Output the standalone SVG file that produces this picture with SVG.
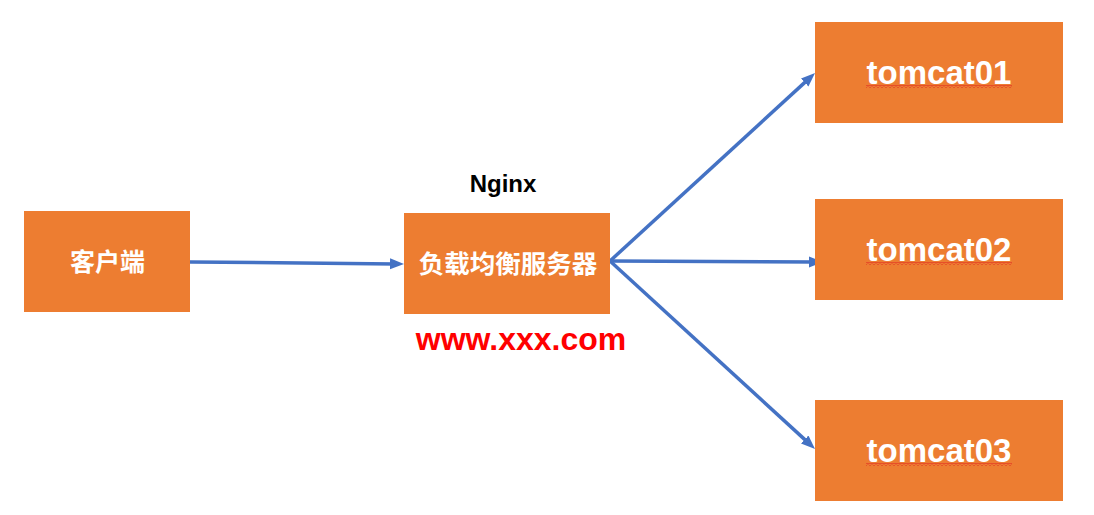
<svg xmlns="http://www.w3.org/2000/svg" width="1094" height="515" viewBox="0 0 1094 515">
  <style>
    .box { fill: #ED7D31; }
    .cn { font-family: "Noto Sans CJK SC", "Liberation Sans", sans-serif; font-weight: bold; fill: #FFFFFF; text-anchor: middle; }
    .tc { font-family: "Liberation Sans", Arial, sans-serif; font-weight: bold; font-size: 33px; fill: #FFFFFF; text-anchor: middle; }
    .conn { stroke: #4472C4; stroke-width: 3.5; fill: none; marker-end: url(#arrow); }
  </style>
  <defs>
    <marker id="arrow" markerUnits="userSpaceOnUse" markerWidth="15" markerHeight="12" refX="5" refY="5.5" orient="auto">
      <path d="M0,0 L14,5.5 L0,11 z" fill="#4472C4"/>
    </marker>
    <pattern id="wave" patternUnits="userSpaceOnUse" width="4" height="3">
      <path d="M0,2.5 L2,0.5 L4,2.5" stroke="#E02020" stroke-width="1" fill="none"/>
    </pattern>
  </defs>
  <rect width="1094" height="515" fill="#FFFFFF"/>

  <g id="connectors">
    <line class="conn" x1="190" y1="262" x2="395" y2="263.9"/>
    <line class="conn" x1="610" y1="261" x2="808.4" y2="79.1"/>
    <line class="conn" x1="610" y1="261" x2="814" y2="262"/>
    <line class="conn" x1="610" y1="261" x2="808.4" y2="442.9"/>
  </g>

  <g id="client">
    <rect class="box" x="24" y="211" width="166" height="101"/>
    <text class="cn" x="107.5" y="271" font-size="25">客户端</text>
  </g>

  <g id="nginx">
    <text x="503" y="192" font-family="Liberation Sans, Arial, sans-serif" font-weight="bold" font-size="24" fill="#000000" text-anchor="middle">Nginx</text>
    <rect class="box" x="404" y="213" width="206" height="101"/>
    <text class="cn" x="508" y="273" font-size="25.5">负载均衡服务器</text>
    <text x="521" y="350" font-family="Liberation Sans, Arial, sans-serif" font-weight="bold" font-size="32" fill="#FF0000" text-anchor="middle">www.xxx.com</text>
  </g>

  <g id="tomcat01">
    <rect class="box" x="815" y="22" width="248" height="101"/>
    <text class="tc" x="939" y="84">tomcat01</text>
    <rect x="866" y="85" width="146" height="3" fill="url(#wave)"/>
  </g>

  <g id="tomcat02">
    <rect class="box" x="815" y="199" width="248" height="101"/>
    <text class="tc" x="939" y="261">tomcat02</text>
    <rect x="866" y="262" width="146" height="3" fill="url(#wave)"/>
  </g>

  <g id="tomcat03">
    <rect class="box" x="815" y="400" width="248" height="101"/>
    <text class="tc" x="939" y="462">tomcat03</text>
    <rect x="866" y="463" width="146" height="3" fill="url(#wave)"/>
  </g>
</svg>
